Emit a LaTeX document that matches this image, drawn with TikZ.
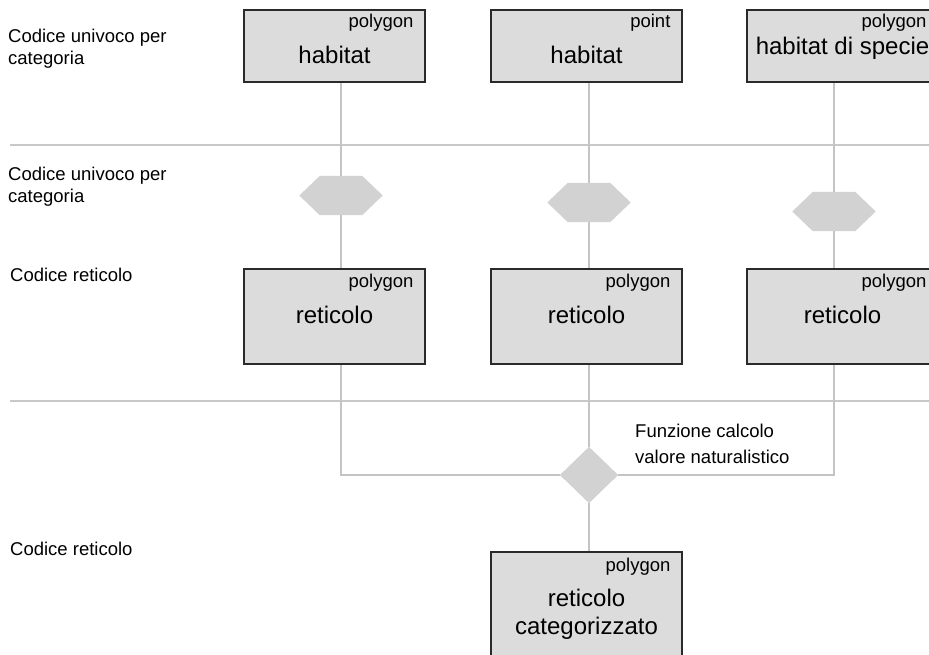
\documentclass[tikz,border=0pt]{standalone}
\usepackage{fontspec}
\setmainfont{Liberation Sans}
\usetikzlibrary{shapes.geometric}
\definecolor{boxfill}{HTML}{DCDCDC}
\definecolor{boxline}{HTML}{2A2A2A}
\definecolor{connc}{HTML}{C4C4C4}
\definecolor{sepc}{HTML}{C8C8C8}
\definecolor{shapefill}{HTML}{D2D2D2}
\begin{document}
\begin{tikzpicture}[x=1pt,y=-1pt,
  box/.style={draw=boxline, line width=1.2pt, fill=boxfill, rectangle, inner sep=0pt},
  smalltxt/.style={inner sep=0pt, font=\fontsize{18.5}{22}\selectfont, text=black},
  bigtxt/.style={inner sep=0pt, font=\fontsize{24}{28}\selectfont, text=black},
  conn/.style={draw=connc, line width=2pt},
  sepline/.style={draw=sepc, line width=2pt},
  hexnode/.style={rectangle, inner sep=0pt, minimum width=83pt, minimum height=39pt},
  diam/.style={diamond, fill=shapefill, inner sep=0pt, minimum width=58pt, minimum height=56pt},
  hexfill/.style={fill=shapefill}]
\useasboundingbox (0,0) rectangle (929,654);
\clip (0,0) rectangle (929,654);

% separator lines
\draw[sepline] (10,145) -- (929,145);
\draw[sepline] (10,401) -- (929,401);

% left labels (anchor = baseline of last line)
\node[smalltxt, anchor=base west, align=left] (l1) at (8,64) {Codice univoco per\\categoria};
\node[smalltxt, anchor=base west, align=left] (l2) at (8,202) {Codice univoco per\\categoria};
\node[smalltxt, anchor=base west] (l3) at (10,281) {Codice reticolo};
\node[smalltxt, anchor=base west] (l4) at (10,555) {Codice reticolo};

% boxes
\node[box, minimum width=181pt, minimum height=72pt] (h1) at (334.5,46) {};
\node[box, minimum width=191pt, minimum height=72pt] (h2) at (586.5,46) {};
\node[box, minimum width=191pt, minimum height=72pt] (h3) at (842.5,46) {};
\node[box, minimum width=181pt, minimum height=95pt] (r1) at (334.5,316.5) {};
\node[box, minimum width=191pt, minimum height=95pt] (r2) at (586.5,316.5) {};
\node[box, minimum width=191pt, minimum height=95pt] (r3) at (842.5,316.5) {};
\node[box, minimum width=191pt, minimum height=112pt] (rc) at (586.5,608) {};

% box texts
\node[smalltxt, anchor=base east] (h1g) at ([xshift=-12pt,yshift=-18pt]h1.north east) {polygon};
\node[bigtxt, anchor=base] (h1t) at ([yshift=-54pt]h1.north) {habitat};
\node[smalltxt, anchor=base east] (h2g) at ([xshift=-12pt,yshift=-18pt]h2.north east) {point};
\node[bigtxt, anchor=base] (h2t) at ([yshift=-54pt]h2.north) {habitat};
\node[smalltxt, anchor=base east] (h3g) at ([xshift=-12pt,yshift=-18pt]h3.north east) {polygon};
\node[bigtxt, anchor=base] (h3t) at ([yshift=-45pt]h3.north) {habitat di specie};

\node[smalltxt, anchor=base east] (r1g) at ([xshift=-12pt,yshift=-19pt]r1.north east) {polygon};
\node[bigtxt, anchor=base] (r1t) at ([yshift=-55pt]r1.north) {reticolo};
\node[smalltxt, anchor=base east] (r2g) at ([xshift=-12pt,yshift=-19pt]r2.north east) {polygon};
\node[bigtxt, anchor=base] (r2t) at ([yshift=-55pt]r2.north) {reticolo};
\node[smalltxt, anchor=base east] (r3g) at ([xshift=-12pt,yshift=-19pt]r3.north east) {polygon};
\node[bigtxt, anchor=base] (r3t) at ([yshift=-55pt]r3.north) {reticolo};

\node[smalltxt, anchor=base east] (rcg) at ([xshift=-12pt,yshift=-20pt]rc.north east) {polygon};
\node[bigtxt, anchor=base, align=center] (rct) at ([yshift=-83pt]rc.north) {reticolo\\categorizzato};

% hexagon holders
\node[hexnode] (x1) at (341,195.5) {};
\node[hexnode] (x2) at (589,202.5) {};
\node[hexnode] (x3) at (834,211.5) {};

% diamond
\node[diam] (d) at (589,475) {};

% connectors
\draw[conn] (h1.south -| x1) -- (r1.north -| x1);
\draw[conn] (h2.south -| x2) -- (r2.north -| x2);
\draw[conn] (h3.south -| x3) -- (r3.north -| x3);
\draw[conn] (r1.south -| x1) |- (d.west);
\draw[conn] (r3.south -| x3) |- (d.east);
\draw[conn] (r2.south -| d) -- (d.north);
\draw[conn] (d.south) -- (rc.north -| d);

% hexagons on top
\foreach \h in {x1,x2,x3}{
  \fill[hexfill] (\h.west) -- ([xshift=20.5pt]\h.north west) -- ([xshift=-20.5pt]\h.north east)
    -- (\h.east) -- ([xshift=-20.5pt]\h.south east) -- ([xshift=20.5pt]\h.south west) -- cycle;
}
\node[diam] at (d) {};

% function label
\node[smalltxt, anchor=base west, align=left] (fn) at (635,463) {Funzione calcolo\\[3.5pt]valore naturalistico};
\end{tikzpicture}
\end{document}
